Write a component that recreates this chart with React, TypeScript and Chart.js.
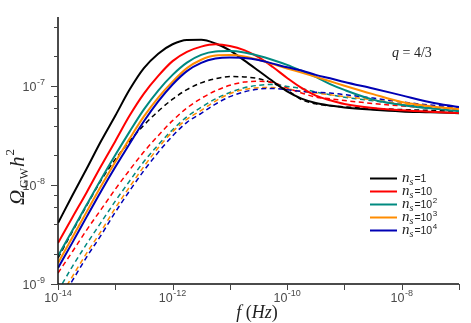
import React, { useEffect, useRef } from "react";
import { Chart, registerables } from "chart.js";

Chart.register(...registerables);

// frequency samples (Hz)
const freqs = [
  1e-14, 1.78e-14, 3.16e-14, 5.62e-14, 1e-13, 1.78e-13, 3.16e-13, 5.62e-13,
  1e-12, 1.78e-12, 3.16e-12, 5.62e-12, 1e-11, 1.78e-11, 3.16e-11, 5.62e-11,
  1e-10, 1.78e-10, 3.16e-10, 5.62e-10, 1e-9, 3.16e-9, 1e-8, 3.16e-8, 1e-7,
];

// solid curves
const solidN1 = [4.13e-9, 7.85e-9, 1.46e-8, 2.77e-8, 5.02e-8, 9.23e-8, 1.52e-7, 2.13e-7, 2.65e-7, 2.93e-7, 2.94e-7, 2.7e-7, 2.3e-7, 1.82e-7, 1.43e-7, 1.12e-7, 8.85e-8, 7.48e-8, 6.76e-8, 6.37e-8, 6.09e-8, 5.77e-8, 5.55e-8, 5.45e-8, 5.33e-8];
const solidN10 = [2.59e-9, 4.7e-9, 8.43e-9, 1.55e-8, 2.78e-8, 5.04e-8, 8.41e-8, 1.27e-7, 1.79e-7, 2.22e-7, 2.51e-7, 2.65e-7, 2.55e-7, 2.31e-7, 1.96e-7, 1.56e-7, 1.21e-7, 9.59e-8, 8.02e-8, 7.2e-8, 6.6e-8, 6.0e-8, 5.7e-8, 5.5e-8, 5.35e-8];
const solidN100 = [1.92e-9, 3.47e-9, 6.31e-9, 1.14e-8, 2.01e-8, 3.47e-8, 5.82e-8, 9.03e-8, 1.3e-7, 1.73e-7, 2.07e-7, 2.24e-7, 2.26e-7, 2.19e-7, 2.03e-7, 1.84e-7, 1.64e-7, 1.43e-7, 1.24e-7, 1.05e-7, 9.16e-8, 7.31e-8, 6.46e-8, 5.96e-8, 5.58e-8];
const solidN1000 = [1.63e-9, 2.95e-9, 5.36e-9, 9.71e-9, 1.71e-8, 2.95e-8, 4.94e-8, 7.67e-8, 1.11e-7, 1.52e-7, 1.85e-7, 2.04e-7, 2.06e-7, 2.0e-7, 1.85e-7, 1.67e-7, 1.51e-7, 1.37e-7, 1.24e-7, 1.12e-7, 1.01e-7, 8.3e-8, 6.92e-8, 6.27e-8, 5.86e-8];
const solidN10000 = [1.45e-9, 2.62e-9, 4.77e-9, 8.63e-9, 1.52e-8, 2.62e-8, 4.42e-8, 7.02e-8, 1.04e-7, 1.42e-7, 1.72e-7, 1.9e-7, 1.95e-7, 1.93e-7, 1.84e-7, 1.69e-7, 1.55e-7, 1.44e-7, 1.3e-7, 1.2e-7, 1.1e-7, 9.46e-8, 8.07e-8, 6.89e-8, 6.14e-8];

// dashed curves
const dashN1 = [1.83e-9, 3.38e-9, 6.18e-9, 1.11e-8, 1.82e-8, 2.77e-8, 4.04e-8, 5.58e-8, 7.38e-8, 9.23e-8, 1.08e-7, 1.19e-7, 1.25e-7, 1.24e-7, 1.19e-7, 1.07e-7, 9.08e-8, 7.31e-8, 6.62e-8, 6.32e-8, 6.18e-8, 5.96e-8, 5.8e-8, 5.69e-8, 5.58e-8];
const dashN10 = [1.29e-9, 2.12e-9, 3.51e-9, 5.65e-9, 9.08e-9, 1.42e-8, 2.17e-8, 3.16e-8, 4.48e-8, 6.01e-8, 7.52e-8, 8.97e-8, 1.02e-7, 1.1e-7, 1.12e-7, 1.09e-7, 9.59e-8, 8.53e-8, 7.76e-8, 7.45e-8, 7.16e-8, 6.68e-8, 6.31e-8, 6.03e-8, 5.86e-8];
const dashN100 = [8.49e-10, 1.5e-9, 2.54e-9, 4.18e-9, 6.88e-9, 1.1e-8, 1.73e-8, 2.55e-8, 3.63e-8, 4.9e-8, 6.11e-8, 7.43e-8, 8.63e-8, 9.62e-8, 1.02e-7, 1.04e-7, 9.93e-8, 9.46e-8, 8.73e-8, 8.2e-8, 7.73e-8, 7.1e-8, 6.5e-8, 6.12e-8, 5.86e-8];
const dashN1000 = [6.89e-10, 1.19e-9, 2.05e-9, 3.4e-9, 5.85e-9, 9.59e-9, 1.54e-8, 2.38e-8, 3.46e-8, 4.63e-8, 5.7e-8, 7.07e-8, 8.39e-8, 9.25e-8, 9.66e-8, 9.68e-8, 9.37e-8, 8.85e-8, 8.51e-8, 8.17e-8, 7.85e-8, 7.26e-8, 6.65e-8, 6.24e-8, 6.0e-8];
const dashN10000 = [6.28e-10, 1.08e-9, 1.87e-9, 3.1e-9, 5.32e-9, 8.75e-9, 1.4e-8, 2.14e-8, 3.14e-8, 4.31e-8, 5.32e-8, 6.59e-8, 7.83e-8, 8.75e-8, 9.33e-8, 9.46e-8, 9.2e-8, 8.87e-8, 8.69e-8, 8.53e-8, 8.2e-8, 7.57e-8, 6.92e-8, 6.44e-8, 6.14e-8];

const colors = ["#000000", "#ff0000", "#008a80", "#ff8c00", "#0000b4"];
const legendExp = ["", "", "2", "3", "4"];
const legendBase = ["1", "10", "10", "10", "10"];

const xTickExps = [-14, -13, -12, -11, -10, -9, -8, -7];
const xLabelExps = [-14, -12, -10, -8];
const yLabelExps = [-9, -8, -7];
const yMinorMult = [2, 4, 6, 8];

const SANS = "'Liberation Sans', Arial, sans-serif";
const SERIF = "'Liberation Serif', 'Times New Roman', serif";

function pts(vals: number[]) {
  return vals.map((v, i) => ({ x: freqs[i], y: v }));
}

function drawPow(ctx: CanvasRenderingContext2D, exp: number, x: number, baseY: number, align: "center" | "right") {
  ctx.font = `12.5px ${SANS}`;
  const w1 = ctx.measureText("10").width;
  ctx.font = `9px ${SANS}`;
  const es = String(exp);
  const w2 = ctx.measureText(es).width;
  const total = w1 + w2 + 0.5;
  const sx = align === "center" ? x - total / 2 : x - total;
  ctx.textAlign = "left";
  ctx.textBaseline = "alphabetic";
  ctx.font = `12.5px ${SANS}`;
  ctx.fillText("10", sx, baseY);
  ctx.font = `9px ${SANS}`;
  ctx.fillText(es, sx + w1 + 0.5, baseY - 6);
}

const decorPlugin = {
  id: "decor",
  afterDraw(chart: any) {
    const ctx: CanvasRenderingContext2D = chart.ctx;
    const xs = chart.scales.x;
    const ys = chart.scales.y;
    const { left, right, top, bottom } = chart.chartArea;
    ctx.save();
    // axes
    ctx.strokeStyle = "#111";
    ctx.lineWidth = 1.5;
    ctx.beginPath();
    ctx.moveTo(left, top);
    ctx.lineTo(left, bottom);
    ctx.lineTo(right, bottom);
    ctx.stroke();

    // x ticks
    ctx.strokeStyle = "#444";
    ctx.lineWidth = 1;
    xTickExps.forEach((e) => {
      const px = Math.round(xs.getPixelForValue(Math.pow(10, e))) + 0.5;
      ctx.beginPath();
      ctx.moveTo(px, bottom);
      ctx.lineTo(px, bottom + 6);
      ctx.stroke();
    });
    // y ticks
    for (let d = -9; d <= -7; d++) {
      const py = Math.round(ys.getPixelForValue(Math.pow(10, d))) + 0.5;
      ctx.beginPath();
      ctx.moveTo(left - 7, py);
      ctx.lineTo(left, py);
      ctx.stroke();
      yMinorMult.forEach((m) => {
        const v = m * Math.pow(10, d);
        if (v > ys.max) return;
        const pm = Math.round(ys.getPixelForValue(v)) + 0.5;
        ctx.beginPath();
        ctx.moveTo(left - 4, pm);
        ctx.lineTo(left, pm);
        ctx.stroke();
      });
    }

    // tick labels
    ctx.fillStyle = "#4a4a4a";
    xLabelExps.forEach((e) => {
      const px = xs.getPixelForValue(Math.pow(10, e));
      drawPow(ctx, e, px, bottom + 18, "center");
    });
    yLabelExps.forEach((e) => {
      const py = ys.getPixelForValue(Math.pow(10, e));
      drawPow(ctx, e, left - 13, py + 5, "right");
    });

    // x title  f (Hz)
    ctx.fillStyle = "#222";
    const parts: [string, string][] = [
      ["f", `italic 18px ${SERIF}`],
      [" (", `18px ${SERIF}`],
      ["Hz", `italic 18px ${SERIF}`],
      [")", `18px ${SERIF}`],
    ];
    let tw = 0;
    parts.forEach(([t, f]) => { ctx.font = f; tw += ctx.measureText(t).width; });
    let cx = 257 - tw / 2;
    ctx.textAlign = "left";
    parts.forEach(([t, f]) => { ctx.font = f; ctx.fillText(t, cx, 318); cx += ctx.measureText(t).width; });

    // y title  Ω_GW h^2
    ctx.save();
    ctx.translate(24, 177);
    ctx.rotate(-Math.PI / 2);
    const yparts: [string, string, number, number][] = [
      ["Ω", `italic 21px ${SERIF}`, 0, 2],
      ["GW", `12px ${SERIF}`, 4, 1],
      ["h", `italic 21px ${SERIF}`, 0, 1],
      ["2", `13px ${SERIF}`, -10, 0],
    ];
    let yw = 0;
    yparts.forEach(([t, f, , g]) => { ctx.font = f; yw += ctx.measureText(t).width + g; });
    let yx = -yw / 2;
    yparts.forEach(([t, f, dy, g]) => { ctx.font = f; ctx.fillText(t, yx, dy); yx += ctx.measureText(t).width + g; });
    ctx.restore();

    // annotation q = 4/3
    ctx.fillStyle = "#222";
    ctx.font = `italic 14px ${SERIF}`;
    ctx.fillText("q", 392, 57);
    const qw = ctx.measureText("q").width;
    ctx.font = `14px ${SERIF}`;
    ctx.fillText(" = 4/3", 392 + qw, 57);

    // legend
    const rows = [178, 191, 204, 217, 230];
    rows.forEach((ry, i) => {
      ctx.strokeStyle = colors[i];
      ctx.lineWidth = 2;
      ctx.setLineDash([]);
      ctx.beginPath();
      ctx.moveTo(370, ry + 0.5);
      ctx.lineTo(397, ry + 0.5);
      ctx.stroke();
      ctx.fillStyle = "#222";
      let lx = 402;
      ctx.font = `italic 15px ${SERIF}`;
      ctx.fillText("n", lx, ry + 4);
      lx += ctx.measureText("n").width;
      ctx.font = `italic 10px ${SERIF}`;
      ctx.fillText("s", lx, ry + 7);
      lx += ctx.measureText("s").width + 1;
      ctx.font = `10.5px ${SANS}`;
      const t = "=" + legendBase[i];
      ctx.fillText(t, lx, ry + 4);
      lx += ctx.measureText(t).width + 0.5;
      if (legendExp[i]) {
        ctx.font = `8px ${SANS}`;
        ctx.fillText(legendExp[i], lx, ry - 1);
      }
    });
    ctx.restore();
  },
};

export default function App() {
  const ref = useRef<HTMLCanvasElement>(null);
  useEffect(() => {
    if (!ref.current) return;
    const solids = [solidN1, solidN10, solidN100, solidN1000, solidN10000];
    const dashes = [dashN1, dashN10, dashN100, dashN1000, dashN10000];
    const ds: any[] = [];
    // index 0 is drawn on top in Chart.js: solids first
    [4, 3, 2, 1, 0].forEach((i) => {
      ds.push({
        data: pts(solids[i]),
        borderColor: colors[i],
        borderWidth: 2,
        pointRadius: 0,
        fill: false,
        cubicInterpolationMode: "monotone",
      });
    });
    [4, 3, 2, 1, 0].forEach((i) => {
      ds.push({
        data: pts(dashes[i]),
        borderColor: colors[i],
        borderWidth: 1.5,
        borderDash: [5, 3.5],
        pointRadius: 0,
        fill: false,
        cubicInterpolationMode: "monotone",
      });
    });
    const chart = new Chart(ref.current, {
      type: "line",
      data: { datasets: ds },
      options: {
        animation: false,
        responsive: false,
        devicePixelRatio: 1,
        layout: { padding: { left: 58, right: 12, top: 17, bottom: 39 } },
        plugins: { legend: { display: false }, tooltip: { enabled: false } },
        scales: {
          x: { type: "logarithmic", min: 1e-14, max: 1e-7, display: false },
          y: { type: "logarithmic", min: 1e-9, max: 5e-7, display: false },
        },
      },
      plugins: [decorPlugin],
    });
    return () => chart.destroy();
  }, []);
  return (
    <div style={{ position: "fixed", left: 0, top: 0, width: 471, height: 323, background: "#fff" }}>
      <canvas ref={ref} width={471} height={323} />
    </div>
  );
}
